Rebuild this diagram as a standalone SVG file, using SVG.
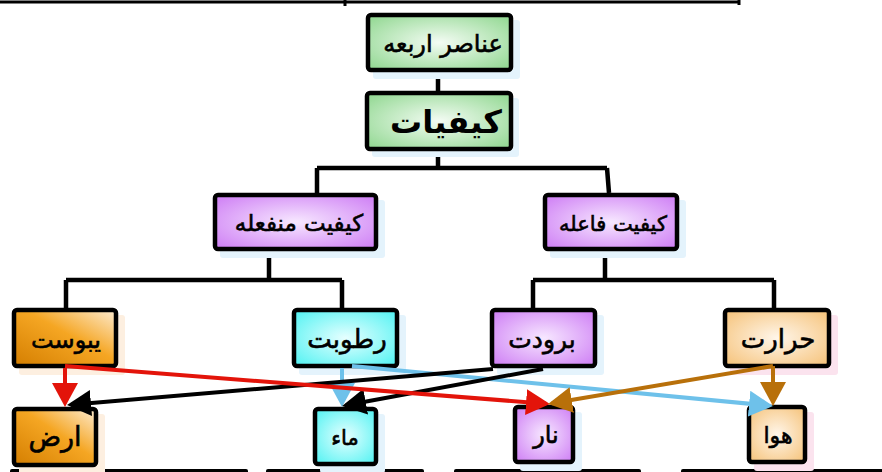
<svg xmlns="http://www.w3.org/2000/svg" width="882" height="472" viewBox="0 0 882 472">
  <style>
    .box { stroke: #000; stroke-width: 4.5; }
    .shadow-blue { fill: #e4f3fc; }
    .shadow-pink { fill: #fbe3ee; }
    .shadow-peach { fill: #fdefe0; }
    .lbl { font-family: "DejaVu Sans", sans-serif; font-size: 24px; fill: #000; stroke: #000; stroke-width: 0.6; text-anchor: middle; direction: rtl; }
    .big { font-size: 32px; font-weight: bold; stroke-width: 0; }
    .tree { fill: none; stroke: #000; stroke-width: 4.5; stroke-linejoin: round; }
    .rule { fill: none; stroke: #000; stroke-width: 3; }
    .arr { fill: none; stroke-width: 4; }
  </style>
  <defs>
    <radialGradient id="gGreen" cx="50%" cy="50%" r="65%">
      <stop offset="0" stop-color="#f4fcf4"/>
      <stop offset="1" stop-color="#95d995"/>
    </radialGradient>
    <radialGradient id="gPurple" cx="50%" cy="50%" r="65%">
      <stop offset="0" stop-color="#f7e8ff"/>
      <stop offset="1" stop-color="#d083f5"/>
    </radialGradient>
    <radialGradient id="gCyan" cx="50%" cy="50%" r="65%">
      <stop offset="0" stop-color="#e6ffff"/>
      <stop offset="1" stop-color="#58f3f3"/>
    </radialGradient>
    <radialGradient id="gPeach" cx="50%" cy="50%" r="65%">
      <stop offset="0" stop-color="#fff6ea"/>
      <stop offset="1" stop-color="#f6c57f"/>
    </radialGradient>
    <linearGradient id="gOrange" x1="0" y1="1" x2="1" y2="0">
      <stop offset="0" stop-color="#d47e00"/>
      <stop offset="0.55" stop-color="#f5a623"/>
      <stop offset="1" stop-color="#fdebd0"/>
    </linearGradient>
    <marker id="hRed" markerUnits="userSpaceOnUse" markerWidth="24" markerHeight="26" refX="20" refY="13" orient="auto">
      <path d="M0,0 L24,13 L0,26 z" fill="#e3140a"/>
    </marker>
    <marker id="hBlack" markerUnits="userSpaceOnUse" markerWidth="24" markerHeight="26" refX="20" refY="13" orient="auto">
      <path d="M0,0 L24,13 L0,26 z" fill="#000"/>
    </marker>
    <marker id="hBlue" markerUnits="userSpaceOnUse" markerWidth="24" markerHeight="26" refX="20" refY="13" orient="auto">
      <path d="M0,0 L24,13 L0,26 z" fill="#6ec1ea"/>
    </marker>
    <marker id="hBrown" markerUnits="userSpaceOnUse" markerWidth="24" markerHeight="26" refX="20" refY="13" orient="auto">
      <path d="M0,0 L24,13 L0,26 z" fill="#b8700a"/>
    </marker>
  </defs>

  <rect width="882" height="472" fill="#fff"/>

  <!-- page rules -->
  <g id="rules">
    <path class="rule" d="M0,2 H740 M345,0 V6 M739,0 V5"/>
    <rect x="10" y="469" width="238" height="6" rx="2"/>
    <rect x="266" y="469" width="158" height="6" rx="2"/>
    <rect x="454" y="469" width="187" height="6" rx="2"/>
    <rect x="681" y="469" width="205" height="6" rx="2"/>
  </g>

  <!-- tree lines -->
  <g id="tree">
    <path class="tree" d="M438,72 V92"/>
    <path class="tree" d="M438,151 V168 M317,168 H607 M317,168 V193 M607,168 L609,193"/>
    <path class="tree" d="M269,251 V280 M66,280 H342 M66,280 V308 M342,280 V308"/>
    <path class="tree" d="M605,251 V280 M533,280 H774 M533,280 V308 M774,280 V308"/>
  </g>

  <g id="n-anasir">
    <rect class="shadow-blue" x="373" y="20" width="147" height="59" rx="3"/>
    <rect class="box" x="368" y="15" width="143" height="55" rx="3" fill="url(#gGreen)"/>
    <text class="lbl" x="443" y="52">عناصر اربعه</text>
  </g>
  <g id="n-kaifiyat">
    <rect class="shadow-blue" x="372" y="98" width="147" height="59" rx="3"/>
    <rect class="box" x="367" y="93" width="144" height="56" rx="3" fill="url(#gGreen)"/>
    <text class="lbl big" x="446" y="133">کیفیات</text>
  </g>
  <g id="n-munfaila">
    <rect class="shadow-blue" x="220" y="200" width="165" height="58" rx="3"/>
    <rect class="box" x="215" y="195" width="161" height="54" rx="3" fill="url(#gPurple)"/>
    <text class="lbl" x="299" y="231" style="font-size:23px">کیفیت منفعله</text>
  </g>
  <g id="n-faila">
    <rect class="shadow-blue" x="550" y="200" width="136" height="58" rx="3"/>
    <rect class="box" x="545" y="195" width="132" height="54" rx="3" fill="url(#gPurple)"/>
    <text class="lbl" x="613" y="231" style="font-size:21px">کیفیت فاعله</text>
  </g>
  <g id="n-yabusat">
    <rect class="shadow-peach" x="19" y="315" width="106" height="60" rx="3"/>
    <rect class="box" x="14" y="310" width="102" height="56" rx="3" fill="url(#gOrange)"/>
    <text class="lbl" x="66" y="348">یبوست</text>
  </g>
  <g id="n-rutubat">
    <rect class="shadow-blue" x="299" y="315" width="107" height="60" rx="3"/>
    <rect class="box" x="294" y="310" width="103" height="56" rx="3" fill="url(#gCyan)"/>
    <text class="lbl" x="347" y="348" style="font-size:26px">رطوبت</text>
  </g>
  <g id="n-burudat">
    <rect class="shadow-blue" x="497" y="315" width="107" height="60" rx="3"/>
    <rect class="box" x="492" y="310" width="103" height="56" rx="3" fill="url(#gPurple)"/>
    <text class="lbl" x="542" y="348" style="font-size:25px">برودت</text>
  </g>
  <g id="n-hararat">
    <rect class="shadow-pink" x="730" y="315" width="108" height="60" rx="3"/>
    <rect class="box" x="725" y="310" width="104" height="56" rx="3" fill="url(#gPeach)"/>
    <text class="lbl" x="778" y="348" style="font-size:26px">حرارت</text>
  </g>
  <g id="n-arz">
    <rect class="shadow-peach" x="19" y="414" width="86" height="60" rx="3"/>
    <rect class="box" x="14" y="409" width="82" height="56" rx="3" fill="url(#gOrange)"/>
    <text class="lbl" x="55" y="446" style="font-size:27px">ارض</text>
  </g>
  <g id="n-ma">
    <rect class="shadow-blue" x="320" y="414" width="65" height="59" rx="3"/>
    <rect class="box" x="315" y="409" width="61" height="55" rx="3" fill="url(#gCyan)"/>
    <text class="lbl" x="345" y="445" style="font-size:21px">ماء</text>
  </g>
  <g id="n-nar">
    <rect class="shadow-blue" x="520" y="412" width="62" height="59" rx="3"/>
    <rect class="box" x="515" y="407" width="58" height="55" rx="3" fill="url(#gPurple)"/>
    <text class="lbl" x="546" y="443">نار</text>
  </g>
  <g id="n-hawa">
    <rect class="shadow-pink" x="754" y="412" width="60" height="59" rx="3"/>
    <rect class="box" x="749" y="407" width="56" height="55" rx="3" fill="url(#gPeach)"/>
    <text class="lbl" x="778" y="443" style="font-size:22px">هوا</text>
  </g>

  <!-- element arrows -->
  <g id="connectors">
    <path class="arr" stroke="#6ec1ea" d="M342,368 V403" marker-end="url(#hBlue)"/>
    <path class="arr" stroke="#6ec1ea" d="M352,366 L769,405.6" marker-end="url(#hBlue)"/>
    <path class="arr" stroke="#000" stroke-width="5" d="M493,369 L71,404.7" marker-end="url(#hBlack)"/>
    <path class="arr" stroke="#000" stroke-width="5" d="M543,369 L346,405.3" marker-end="url(#hBlack)"/>
    <path class="arr" stroke="#e3140a" d="M65,368 V403" marker-end="url(#hRed)"/>
    <path class="arr" stroke="#e3140a" d="M65,366 L546,403.7" marker-end="url(#hRed)"/>
    <path class="arr" stroke="#b8700a" d="M773,366 V402" marker-end="url(#hBrown)"/>
    <path class="arr" stroke="#b8700a" d="M773,366 L552,403.3" marker-end="url(#hBrown)"/>
  </g>
</svg>
